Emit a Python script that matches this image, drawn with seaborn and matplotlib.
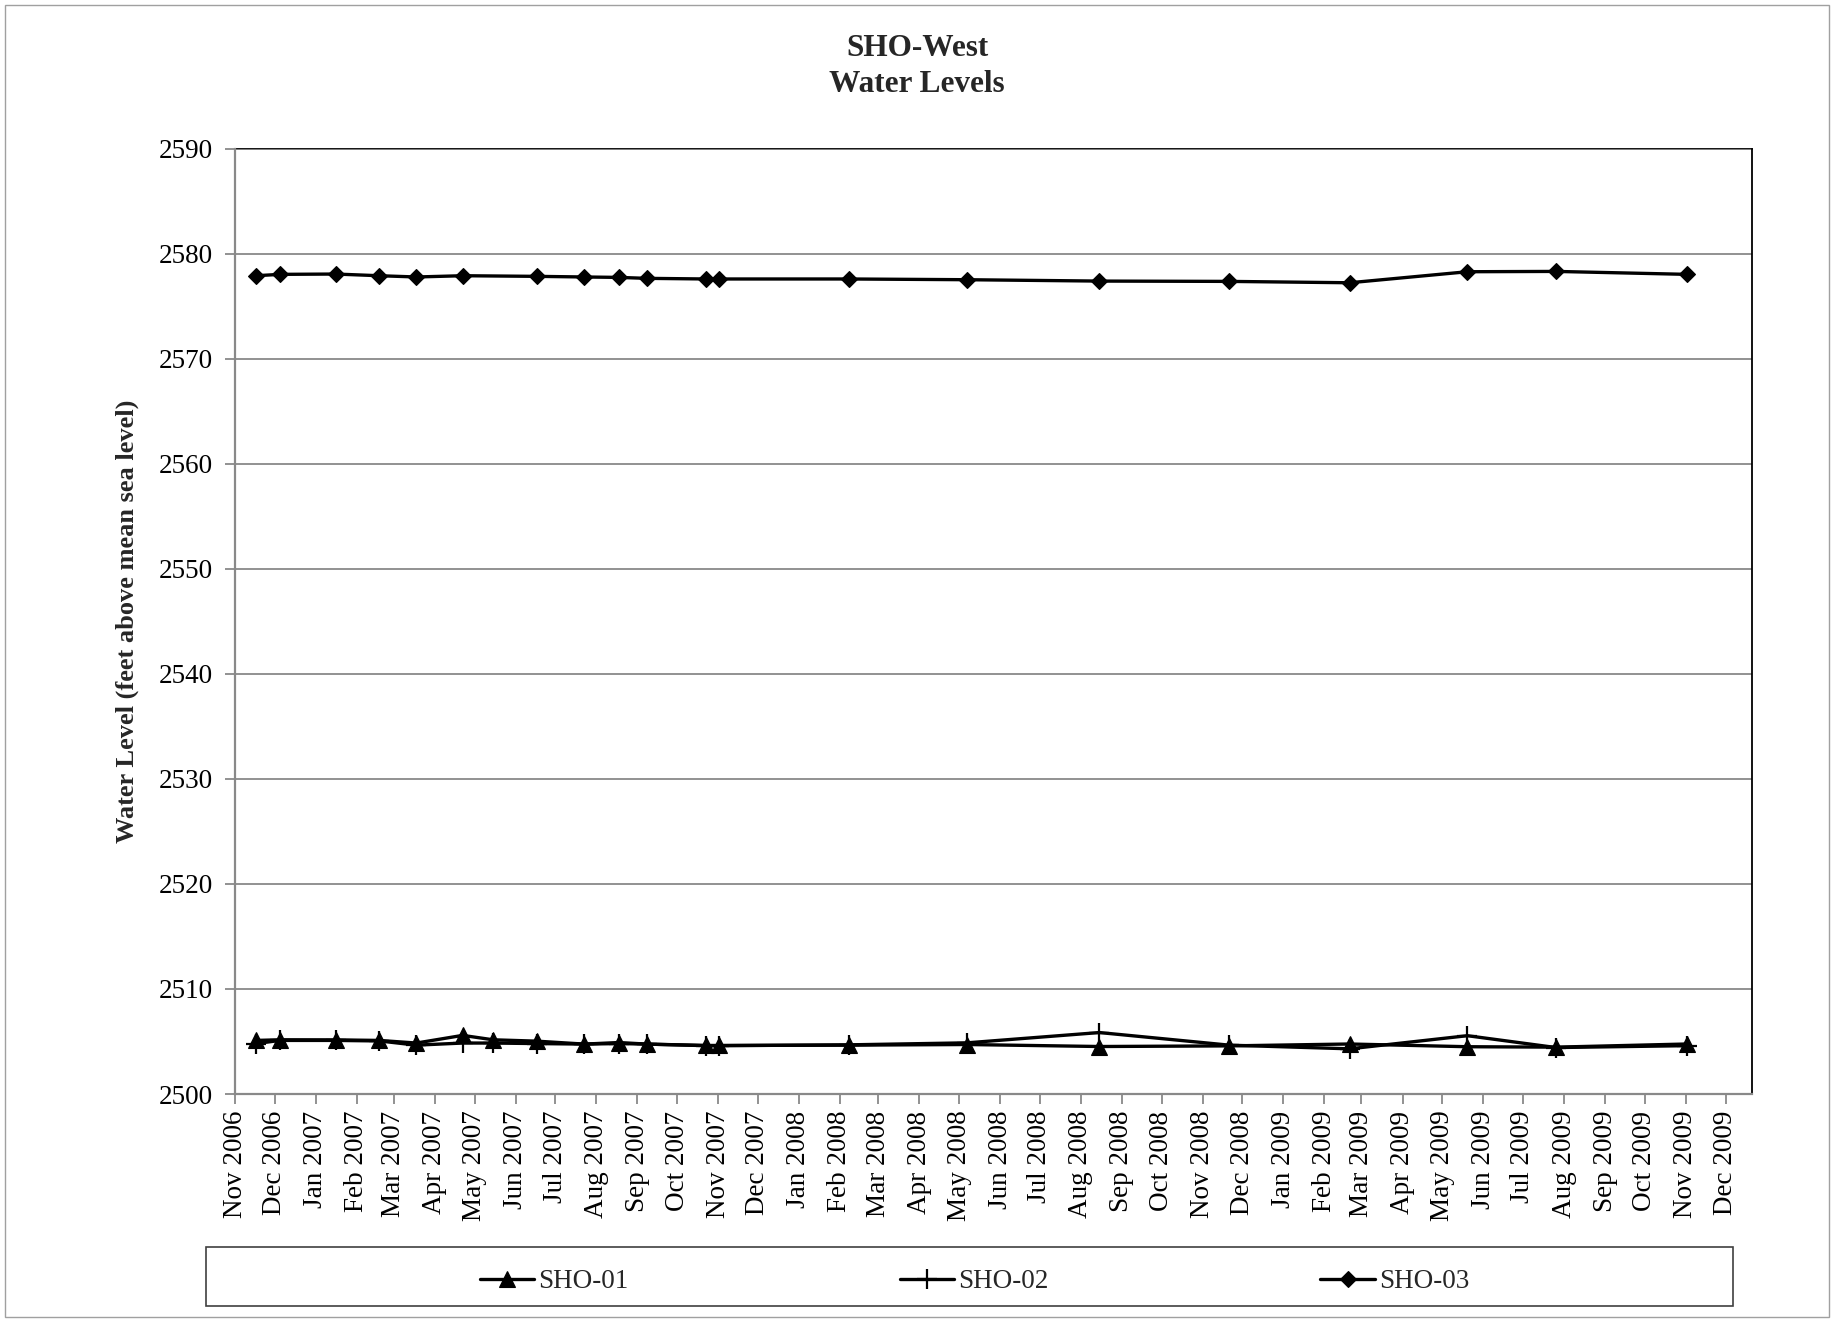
import matplotlib
matplotlib.use("Agg")
import matplotlib.pyplot as plt
import matplotlib.dates as mdates
from matplotlib.patches import Rectangle
import pandas as pd
import seaborn as sns

# ---------------- data ----------------
dates_01_02 = ["2006-11-17", "2006-12-05", "2007-01-16", "2007-02-18", "2007-03-18",
               "2007-04-22", "2007-05-15", "2007-06-17", "2007-07-23", "2007-08-18",
               "2007-09-08", "2007-10-23", "2007-11-02", "2008-02-08", "2008-05-07",
               "2008-08-15", "2008-11-21", "2009-02-20", "2009-05-20", "2009-07-26",
               "2009-11-02"]
sho01 = [2505.10, 2505.16, 2505.15, 2505.10, 2504.85, 2505.58, 2505.16, 2505.03,
         2504.75, 2504.90, 2504.75, 2504.62, 2504.62, 2504.65, 2504.71, 2504.52,
         2504.58, 2504.76, 2504.50, 2504.46, 2504.76]
sho02 = [2504.80, 2505.10, 2505.10, 2505.05, 2504.65, 2504.85, 2504.85, 2504.80,
         2504.75, 2504.80, 2504.75, 2504.60, 2504.60, 2504.68, 2504.87, 2505.85,
         2504.65, 2504.30, 2505.55, 2504.42, 2504.60]
dates_03 = ["2006-11-17", "2006-12-05", "2007-01-16", "2007-02-18", "2007-03-18",
            "2007-04-22", "2007-06-17", "2007-07-23", "2007-08-18", "2007-09-08",
            "2007-10-23", "2007-11-02", "2008-02-08", "2008-05-07", "2008-08-15",
            "2008-11-21", "2009-02-20", "2009-05-20", "2009-07-26", "2009-11-02"]
sho03 = [2577.89, 2578.02, 2578.05, 2577.89, 2577.77, 2577.89, 2577.83, 2577.77,
         2577.73, 2577.64, 2577.58, 2577.58, 2577.58, 2577.51, 2577.38, 2577.35,
         2577.22, 2578.27, 2578.30, 2578.02]
series_names = ["SHO-01", "SHO-02", "SHO-03"]
y_ticks = list(range(2500, 2591, 10))
title_text = "SHO-West\nWater Levels"
y_label = "Water Level (feet above mean sea level)"

# ---------------- style ----------------
sns.set_style("white")
plt.rcParams["font.family"] = ["Liberation Serif", "DejaVu Serif"]

fig = plt.figure(figsize=(18.34, 13.22), dpi=100)
ax = fig.add_axes([235 / 1834, 1 - 1094 / 1322, (1752 - 235) / 1834, (1094 - 148.5) / 1322])

grid_c = "#898989"
line_kw = dict(color="black", linewidth=2.4, ax=ax)

sns.lineplot(x=pd.to_datetime(dates_01_02), y=sho01, marker="^", markersize=11,
             markeredgecolor="black", markerfacecolor="black", markeredgewidth=0.8,
             label=series_names[0], **line_kw)
sns.lineplot(x=pd.to_datetime(dates_01_02), y=sho02, marker="+", markersize=15,
             markeredgecolor="black", markeredgewidth=1.6,
             label=series_names[1], **line_kw)
sns.lineplot(x=pd.to_datetime(dates_03), y=sho03, marker="D", markersize=8,
             markeredgecolor="black", markerfacecolor="black", markeredgewidth=0.8,
             label=series_names[2], **line_kw)

ax.set_ylim(2500, 2590)
ax.set_yticks(y_ticks)
ax.set_xlim(pd.Timestamp("2006-11-01"), pd.Timestamp("2009-12-21"))
ax.xaxis.set_major_locator(mdates.MonthLocator())
ax.xaxis.set_major_formatter(mdates.DateFormatter("%b %Y"))
for lab in ax.get_xticklabels():
    lab.set_rotation(90)

ax.grid(axis="y", color=grid_c, linewidth=1.3)
ax.grid(axis="x", visible=False)
ax.set_axisbelow(True)

ax.tick_params(axis="both", which="major", direction="out", length=7, width=1.3,
               color=grid_c, labelsize=19.5, labelcolor="black")
ax.tick_params(axis="y", pad=9, left=True)
ax.tick_params(axis="x", pad=5, bottom=True)

for side in ["left", "bottom"]:
    ax.spines[side].set_color(grid_c)
    ax.spines[side].set_linewidth(1.6)
for side in ["top", "right"]:
    ax.spines[side].set_color("black")
    ax.spines[side].set_linewidth(1.3)
ax.spines["top"].set_zorder(0.5)

ax.set_xlabel("")
ax.set_ylabel(y_label, fontsize=19, fontweight="bold")
ax.yaxis.set_label_coords(-0.0636, 0.5)

fig.text(0.5, 1 - 66.5 / 1322, title_text, ha="center", va="center",
         fontsize=22.5, fontweight="bold", linespacing=1.28)

# legend
leg_ax = ax.get_legend()
handles, labels = ax.get_legend_handles_labels()
if leg_ax is not None:
    leg_ax.remove()
fig.legend(handles, labels, loc="center", bbox_to_anchor=(974.5 / 1834, 1 - 1281.5 / 1322),
           ncol=3, frameon=False, fontsize=19.5, handlelength=2.0, handletextpad=0.15,
           columnspacing=10.03, markerscale=1.0)
fig.patches.append(Rectangle((206 / 1834, 1 - 1306 / 1322), (1733 - 206) / 1834, 59 / 1322,
                             transform=fig.transFigure, fill=False, edgecolor="#404040",
                             linewidth=1.2))
fig.patches.append(Rectangle((5 / 1834, 5 / 1322), 1824 / 1834, 1312 / 1322,
                             transform=fig.transFigure, fill=False, edgecolor="#a0a0a0",
                             linewidth=1.0))

fig.savefig("out.png", dpi=100)
